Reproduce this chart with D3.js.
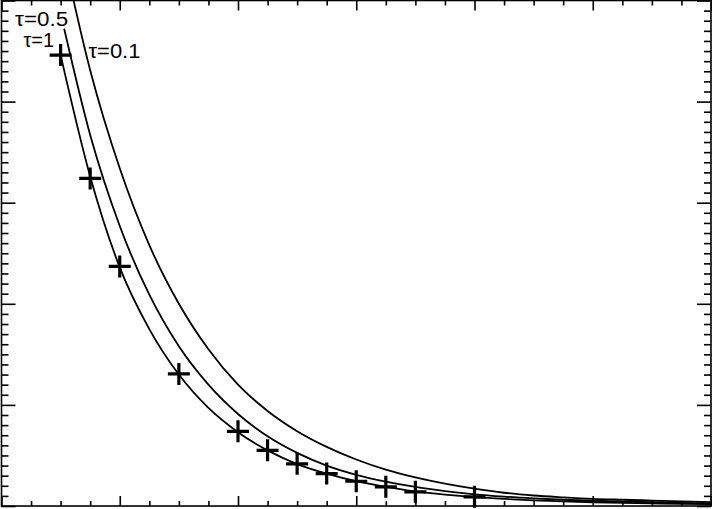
<!DOCTYPE html>
<html>
<head>
<meta charset="utf-8">
<script src="https://cdn.jsdelivr.net/npm/d3@7"></script>
<style>
  html, body { margin: 0; padding: 0; background: #fff; }
  svg { display: block; }
  text { font-family: "Liberation Sans", Arial, sans-serif; }
</style>
</head>
<body>
<div id="chart"></div>
<script>
// values (x: 0..6, y: 0..5)
const curveX = [0.5, 0.75, 1, 1.25, 1.5, 1.75, 2, 2.25, 2.5, 2.75, 3, 3.25, 3.5, 3.75, 4, 4.25, 4.5, 4.75, 5, 5.25, 5.5, 5.75, 6];
const tau01Y = [5.58, 4.31, 3.34, 2.58, 2.0, 1.55, 1.2, 0.94, 0.74, 0.585, 0.46, 0.36, 0.283, 0.221, 0.171, 0.131, 0.104, 0.086, 0.071, 0.062, 0.054, 0.046, 0.038];
const tau05Y = [4.72, 3.67, 2.77, 2.09, 1.58, 1.2, 0.91, 0.69, 0.526, 0.4, 0.309, 0.242, 0.189, 0.148, 0.115, 0.092, 0.075, 0.062, 0.052, 0.044, 0.037, 0.031, 0.026];
const tau05X = [0.53].concat(curveX.slice(1));
const tau1Y = [4.46, 3.26, 2.36, 1.75, 1.3, 0.97, 0.73, 0.55, 0.415, 0.32, 0.245, 0.19, 0.145, 0.113, 0.088, 0.07, 0.056, 0.045, 0.037, 0.031, 0.026, 0.022, 0.019];

const markerX = [0.5, 0.75, 1, 1.5, 2, 2.25, 2.5, 2.75, 3, 3.25, 3.5, 4];
const markerY = [4.46, 3.24, 2.37, 1.306, 0.739, 0.551, 0.417, 0.321, 0.245, 0.19, 0.14, 0.091];

const labels = [
  {text: "τ=0.5", x: 0.115, y: 4.75, width: 53},
  {text: "τ=1", x: 0.185, y: 4.54, width: null},
  {text: "τ=0.1", x: 0.735, y: 4.43, width: 52}
];

const size = {width: 712, height: 509};

const x = d3.scaleLinear().domain([0, 6]).range([1.5, 711]);
const y = d3.scaleLinear().domain([0, 5]).range([506, 0.5]);

const svg = d3.select("#chart")
  .append("svg")
  .attr("width", size.width)
  .attr("height", size.height);

svg.append("defs").append("clipPath")
  .attr("id", "plot-clip")
  .append("rect")
  .attr("x", x(0))
  .attr("y", y(5))
  .attr("width", x(6) - x(0))
  .attr("height", y(0) - y(5));

// frame
svg.append("rect")
  .attr("x", x(0))
  .attr("y", y(5))
  .attr("width", x(6) - x(0))
  .attr("height", y(0) - y(5))
  .attr("fill", "none")
  .attr("stroke", "#000")
  .attr("stroke-width", 1.6);

const xMajor = x.ticks(6);
const xMinor = d3.range(0, 6.001, 0.25).filter(v => v % 1 !== 0);
const yMajor = y.ticks(5);
const yMinor = d3.range(0, 5.001, 0.1).filter(v => Math.abs(v - Math.round(v)) > 1e-6);

function addAxis(axis, values, len, transform) {
  const g = svg.append("g")
    .attr("transform", transform)
    .call(axis.tickValues(values).tickSize(-len).tickFormat(""));
  g.select(".domain").remove();
  g.selectAll(".tick line").attr("stroke", "#000").attr("stroke-width", 1.6);
}

addAxis(d3.axisBottom(x), xMajor, 10, `translate(0,${y(0)})`);
addAxis(d3.axisBottom(x), xMinor, 5, `translate(0,${y(0)})`);
addAxis(d3.axisTop(x), xMajor, 10, `translate(0,${y(5)})`);
addAxis(d3.axisTop(x), xMinor, 5, `translate(0,${y(5)})`);
addAxis(d3.axisLeft(y), yMajor, 14, `translate(${x(0)},0)`);
addAxis(d3.axisLeft(y), yMinor, 7, `translate(${x(0)},0)`);
addAxis(d3.axisRight(y), yMajor, 14, `translate(${x(6)},0)`);
addAxis(d3.axisRight(y), yMinor, 7, `translate(${x(6)},0)`);

const line = d3.line()
  .x(d => x(d[0]))
  .y(d => y(d[1]))
  .curve(d3.curveMonotoneX);

const series = [
  d3.zip(curveX, tau01Y),
  d3.zip(tau05X, tau05Y),
  d3.zip(curveX, tau1Y)
];

svg.append("g")
  .attr("clip-path", "url(#plot-clip)")
  .selectAll("path")
  .data(series)
  .join("path")
  .attr("d", line)
  .attr("fill", "none")
  .attr("stroke", "#000")
  .attr("stroke-width", 1.8);

svg.append("g")
  .selectAll("path")
  .data(d3.zip(markerX, markerY))
  .join("path")
  .attr("transform", d => `translate(${x(d[0])},${y(d[1])})`)
  .attr("d", "M-11,0H11M0,-11V11")
  .attr("stroke", "#000")
  .attr("stroke-width", 3.2);

svg.append("g")
  .selectAll("text")
  .data(labels)
  .join("text")
  .attr("x", d => x(d.x))
  .attr("y", d => y(d.y))
  .attr("font-size", 20)
  .attr("textLength", d => d.width)
  .attr("lengthAdjust", "spacingAndGlyphs")
  .attr("fill", "#000")
  .text(d => d.text);
</script>
</body>
</html>
